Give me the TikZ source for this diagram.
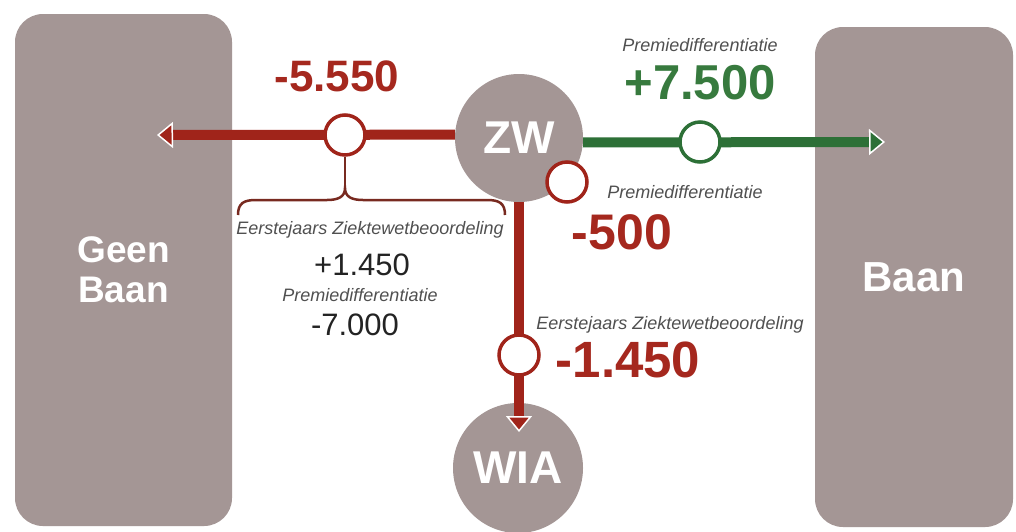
\documentclass[tikz,border=0pt]{standalone}
\usepackage{fontspec}
\setmainfont{Liberation Sans}
\usetikzlibrary{arrows.meta}
\definecolor{boxgray}{RGB}{164,150,149}
\definecolor{dred}{RGB}{160,36,26}
\definecolor{tred}{RGB}{165,40,30}
\definecolor{dgreen}{RGB}{45,112,55}
\definecolor{tgreen}{RGB}{55,122,62}
\definecolor{lbl}{RGB}{80,80,80}
\definecolor{numblack}{RGB}{35,35,35}
\definecolor{brc}{RGB}{120,42,32}
\newcommand{\fsz}[1]{\fontsize{#1}{#1}\selectfont}
\begin{document}
\begin{tikzpicture}[x=1pt,y=-1pt,
  panel/.style={fill=boxgray, rounded corners=28pt, inner sep=0pt, text=white, align=center,
    font=\fontsize{37}{40}\selectfont\bfseries},
  hub/.style={circle, fill=boxgray, inner sep=0pt, text=white, font=\fsz{46}\bfseries},
  marker/.style={circle, draw=dred, fill=white, line width=3.5pt, minimum size=40pt, inner sep=0pt},
  gmarker/.style={marker, draw=dgreen},
  redflow/.style={draw=dred, line width=10pt, -{Triangle[length=16pt,width=26pt,fill=dred,color=white,line width=1.5pt]}},
  greenflow/.style={draw=dgreen, line width=10pt, -{Triangle[length=16pt,width=26pt,fill=dgreen,color=white,line width=1.5pt]}},
  small/.style={inner sep=0pt, text=lbl, font=\fsz{18}\itshape},
  bignum/.style={inner sep=0pt, font=\bfseries},
  plainnum/.style={inner sep=0pt, text=numblack, font=\fsz{31}},
  bracepath/.style={draw=brc, line width=2.5pt}
]
\useasboundingbox (0,0) rectangle (1016,531);
\fill[white] (0,0) rectangle (1016,531);

% panels
\node[panel, minimum width=217pt, minimum height=512pt] (geen) at (123.5,270) {Geen\\Baan};
\node[panel, minimum width=198pt, minimum height=500pt, font=\fsz{42}\bfseries] (baan) at (914,277) {Baan};

% hubs
\node[hub, minimum size=128pt] (zw) at (519,138) {ZW};
\node[hub, minimum size=130pt] (wia) at (518,468) {WIA};

% flow coordinates
\coordinate (tipL) at (157,135);
\coordinate (tipR) at (885,142);
\coordinate (tipV) at (519,432);
\coordinate (pL) at (345,135);
\coordinate (pR) at (700,142);
\coordinate (pV) at (519,355);

% flows
\draw[redflow] (zw.177) -- (tipL);
\draw[greenflow] (zw.-4) -- (tipR);
\draw[redflow] (zw.south) -- (tipV);

% markers
\node[marker] (mL) at (pL) {};
\node[gmarker] (mR) at (pR) {};
\node[marker] (mV) at (pV) {};
\node[marker] (mZ) at (567,182) {};

% brace
\coordinate (btip) at (345,188);
\draw[bracepath] (mL.south) -- (btip);
\draw[bracepath] (238,215) .. controls (238,203) and (244,200) .. (256,200) -- (327,200)
  .. controls (338,200) and (345,197) .. (btip)
  .. controls (345,197) and (352,200) .. (363,200) -- (487,200)
  .. controls (499,200) and (505,203) .. (505,215);

% labels
\node[bignum, text=tred, font=\fsz{44}\bfseries] (n1) at (337,76) {-5.550};
\node[small] (t1) at (700,45) {Premiedifferentiatie};
\node[bignum, text=tgreen, font=\fsz{49}\bfseries] (n2) at (700,83) {+7.500};
\node[small] (t2) at (685,192) {Premiedifferentiatie};
\node[bignum, text=tred, font=\fsz{50}\bfseries] (n3) at (622,232) {-500};
\node[small] (t3) at (670,325) {Eerstejaars Ziektewetbeoordeling};
\node[bignum, text=tred, font=\fsz{51}\bfseries] (n4) at (628,360) {-1.450};

\node[small] (t4) at (370,230) {Eerstejaars Ziektewetbeoordeling};
\node[plainnum] (n5) at (362,265) {+1.450};
\node[small] (t5) at (360,295) {Premiedifferentiatie};
\node[plainnum] (n6) at (355,325) {-7.000};
\end{tikzpicture}
\end{document}
